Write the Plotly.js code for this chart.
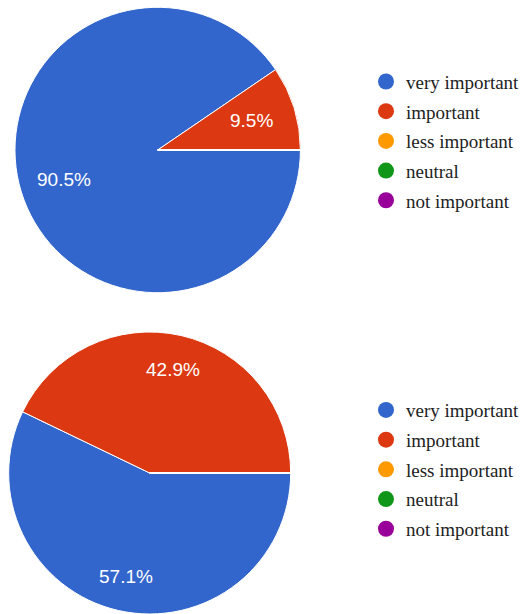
<!DOCTYPE html>
<html>
<head>
<meta charset="utf-8">
<script src="https://cdn.plot.ly/plotly-3.0.1.min.js"></script>
<style>html,body{margin:0;padding:0;background:#fff;}#chart{width:525px;height:614px;}</style>
</head>
<body>
<div id="chart"></div>
<script>
var categories = ["very important", "important", "less important", "neutral", "not important"];
var colors = ["#3366cc", "#dc3912", "#ff9900", "#109618", "#990099"];
var topValues = [19, 2, 0, 0, 0];
var bottomValues = [12, 9, 0, 0, 0];

var W = 525, H = 614;
var topDomain = {x: [0.0286, 0.5733], y: [0.5228, 0.9886]};
var bottomDomain = {x: [0.0133, 0.558], y: [0.0, 0.4593]};

function pieTrace(values, domain) {
  return {
    type: "pie",
    labels: categories,
    values: values,
    sort: false,
    direction: "clockwise",
    rotation: 90,
    marker: {colors: colors, line: {color: "#ffffff", width: 1}},
    textinfo: "none",
    showlegend: false,
    hoverinfo: "label+percent",
    domain: domain
  };
}

// Percent labels placed at each slice's mid-angle (derived from the values)
function sliceLabels(values, domain, factor) {
  var total = values.reduce(function (a, b) { return a + b; }, 0);
  var wpx = (domain.x[1] - domain.x[0]) * W;
  var hpx = (domain.y[1] - domain.y[0]) * H;
  var r = Math.min(wpx, hpx) / 2;
  var cx = (domain.x[0] + domain.x[1]) / 2;
  var cy = (domain.y[0] + domain.y[1]) / 2;
  var acc = 0, out = [];
  values.forEach(function (v) {
    if (v > 0) {
      var mid = (acc + v / 2) / total * 2 * Math.PI; // clockwise from 3 o'clock
      out.push({
        xref: "paper", yref: "paper",
        x: cx + factor * r * Math.cos(mid) / W,
        y: cy - factor * r * Math.sin(mid) / H,
        xanchor: "center", yanchor: "middle",
        showarrow: false,
        text: (v / total * 100).toFixed(1) + "%",
        font: {family: "Liberation Sans, Arial, sans-serif", size: 19, color: "#ffffff"}
      });
    }
    acc += v;
  });
  return out;
}

var data = [pieTrace(topValues, topDomain), pieTrace(bottomValues, bottomDomain)];

["legend", "legend2"].forEach(function (lg) {
  categories.forEach(function (c, i) {
    data.push({
      type: "scatter",
      mode: "markers",
      x: [null], y: [null],
      name: c,
      legend: lg,
      legendgroup: lg + i,
      marker: {color: colors[i], size: 20, symbol: "circle"},
      hoverinfo: "skip",
      xaxis: "x", yaxis: "y"
    });
  });
});

var legendBase = {
  font: {family: "Liberation Serif, Times New Roman, serif", size: 19, color: "#222222"},
  bgcolor: "rgba(0,0,0,0)",
  traceorder: "grouped",
  tracegroupgap: 2,
  itemsizing: "trace",
  xanchor: "left",
  yanchor: "top"
};

var layout = {
  width: W,
  height: H,
  margin: {l: 0, r: 0, t: 0, b: 0},
  paper_bgcolor: "#ffffff",
  plot_bgcolor: "rgba(0,0,0,0)",
  xaxis: {visible: false, domain: [0.99, 1]},
  yaxis: {visible: false, domain: [0.99, 1]},
  showlegend: true,
  legend: Object.assign({}, legendBase, {x: 0.698, y: 0.898}),
  legend2: Object.assign({}, legendBase, {x: 0.698, y: 0.3630}),
  annotations: sliceLabels(topValues, topDomain, 0.69).concat(sliceLabels(bottomValues, bottomDomain, 0.75))
};

Plotly.newPlot("chart", data, layout, {displayModeBar: false, staticPlot: true});
</script>
</body>
</html>
